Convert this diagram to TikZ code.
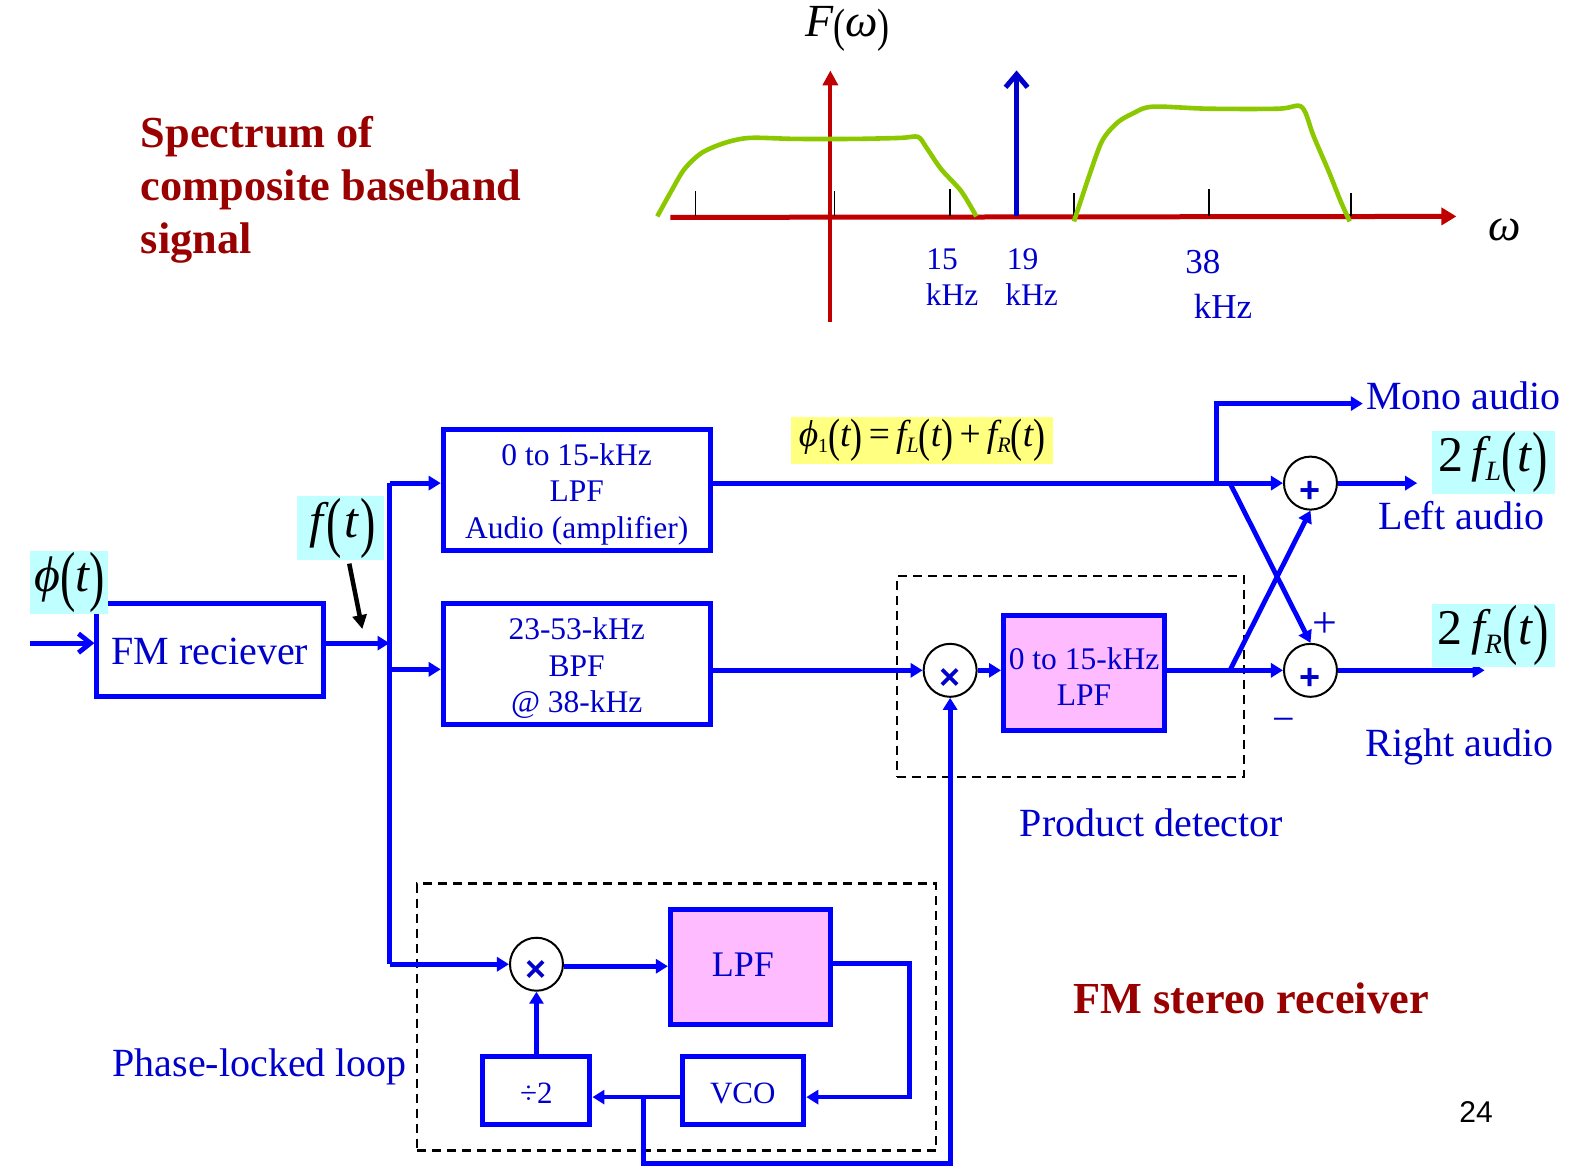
\documentclass[tikz,border=0pt]{standalone}
\usepackage{fontspec}
\setmainfont{Liberation Serif}
\newfontfamily\numfont{Liberation Sans}
\usetikzlibrary{arrows.meta,calc}
\definecolor{bl}{HTML}{0000FF}
\definecolor{tb}{HTML}{0000CC}
\definecolor{dr}{HTML}{990000}
\definecolor{axr}{HTML}{C00000}
\definecolor{grn}{HTML}{8CC800}
\definecolor{pnk}{HTML}{FFBBFF}
\definecolor{cyn}{HTML}{C0FFFF}
\definecolor{yel}{HTML}{FFFF80}
\newcommand{\fsz}[1]{\fontsize{#1}{#1}\selectfont}
\newcommand{\bigp}[1]{{\upshape\fsz{46}\raisebox{-7pt}{\scalebox{1}[1.45]{#1}}}}
\newcommand{\midp}[1]{{\upshape\fsz{36}\raisebox{-5pt}{\scalebox{1}[1.3]{#1}}}}
\newcommand{\lowsub}[3]{{\fsz{#1}\raisebox{#2}{#3}}}
\tikzset{
  wire/.style={draw=bl,line width=4.8pt,line join=miter},
  arr/.style={wire,-{Triangle[length=12pt,width=14pt]}},
  barb/.style={wire,-{Straight Barb[length=12pt,width=19pt,line width=4.8pt]}},
  blockbox/.style={draw=bl,line width=5pt,fill=white,inner sep=0pt},
  pinkbox/.style={blockbox,fill=pnk},
  boxtext/.style={text=tb,align=center,inner sep=0pt,font=\fsz{31.5},execute at begin node=\setlength{\baselineskip}{36.5pt}},
  circ/.style={circle,draw=black,line width=2pt,fill=white,minimum size=53pt,inner sep=0pt},
  symb/.style={inner sep=0pt,text=tb,font=\numfont\bfseries\fsz{36},yshift=-9pt},
  blt/.style={text=tb,font=\fsz{40},inner sep=0pt},
  title/.style={text=dr,font=\bfseries\fsz{44.3},inner sep=0pt},
  dbox/.style={draw=black,line width=2.2pt,dash pattern=on 9pt off 6pt},
  cy/.style={fill=cyn,inner sep=0pt,text=black,font=\itshape\fsz{50}},
  tick/.style={draw=black,line width=1.8pt},
  greenc/.style={draw=grn,line width=4.6pt,line cap=butt},
}
\begin{document}
\begin{tikzpicture}[x=1.0065pt,y=-1.0065pt]
\useasboundingbox (0,0) rectangle (1567.8,1162.4);
% --- spectrum
\node[inner sep=0pt,text=black,font=\itshape\fsz{46}] (fw) at (842,29) {F\midp{(}ω\midp{)}};
\node[inner sep=0pt,text=black,font=\itshape\fsz{46}] (wlab) at (1495,228) {ω};
\draw[draw=axr,line width=5pt,-{Triangle[length=15pt,width=17pt]}] (666,216) -- (1447,215);
\draw[draw=axr,line width=4pt,-{Triangle[length=15pt,width=15pt]}] (825,320) -- (825,70);
\draw[draw=tb,line width=5pt,-{Straight Barb[length=13pt,width=22pt,line width=5pt]}] (1010,215) -- (1010,70);
\foreach \x/\y in {691/190,829/190,944/188,1067/192,1201/188,1342/192}
  \draw[tick] (\x,\y) -- (\x,215);
\draw[greenc] plot[smooth,tension=0.5] coordinates {(653,215) (668,188) (680,168) (697,152) (720,142) (745,137) (790,138) (850,138) (895,137) (912,136) (920,146) (935,168) (955,190) (970,215)};
\draw[greenc] plot[smooth,tension=0.5] coordinates {(1067,220) (1082,175) (1095,140) (1110,122) (1125,113) (1145,106) (1200,108) (1270,108) (1290,105) (1297,112) (1305,135) (1320,170) (1332,200) (1341,220)};
\node[text=tb,font=\fsz{31.5},inner sep=0pt] (l15) at (936,258) {15};
\node[text=tb,font=\fsz{31.5},inner sep=0pt] (l15k) at (946,293) {kHz};
\node[text=tb,font=\fsz{31.5},inner sep=0pt] (l19) at (1016,258) {19};
\node[text=tb,font=\fsz{31.5},inner sep=0pt] (l19k) at (1025,293) {kHz};
\node[text=tb,font=\fsz{35},inner sep=0pt] (l38) at (1195,260) {38};
\node[text=tb,font=\fsz{35},inner sep=0pt] (l38k) at (1215,304) {kHz};
% --- titles
\node[title,align=left,execute at begin node=\setlength{\baselineskip}{53pt}] (t1) at (329,189) {Spectrum of\\composite baseband\\signal};
\node[title] (t2) at (1243,992) {FM stereo receiver};
\node[inner sep=0pt,text=black,font=\numfont\fsz{30}] (pg) at (1466.5,1104.5) {24};
% --- blocks
\node[dbox,minimum width=347pt,minimum height=201pt] (pd) at (1063.5,672.5) {};
\node[dbox,minimum width=519pt,minimum height=267pt] (pll) at (672.5,1010.5) {};
\node[blockbox,minimum width=227pt,minimum height=93pt] (fm) at (209,646) {};
\node[text=tb,font=\fsz{40},inner sep=0pt] (fmt) at (208.5,647) {FM reciever};
\node[blockbox,minimum width=267pt,minimum height=121pt] (lpf1) at (573,487) {};
\node[boxtext] (lpf1t) at (573,491) {0 to 15-kHz\\LPF\\Audio (amplifier)};
\node[blockbox,minimum width=267pt,minimum height=121pt] (bpf) at (573,660) {};
\node[boxtext] (bpft) at (573,664) {23-53-kHz\\BPF\\@ 38-kHz};
\node[pinkbox,minimum width=161pt,minimum height=115pt] (lpf2) at (1077,669) {};
\node[boxtext] (lpf2t) at (1077,672) {0 to 15-kHz\\LPF};
\node[pinkbox,minimum width=160pt,minimum height=115pt] (lpf3) at (745.5,961) {};
\node[text=tb,font=\fsz{36},inner sep=0pt] (lpf3t) at (738,958) {LPF};
\node[blockbox,minimum width=107pt,minimum height=68pt] (div) at (533,1083.5) {};
\node[text=tb,font=\fsz{31},inner sep=0pt] (divt) at (533,1086) {÷2};
\node[blockbox,minimum width=121pt,minimum height=68pt] (vco) at (738.5,1083.5) {};
\node[text=tb,font=\fsz{31},inner sep=0pt] (vcot) at (738,1086) {VCO};
\node[circ,label={[symb]center:+}] (add1) at (1302,480) {};
\node[circ,label={[symb]center:+}] (add2) at (1302,666) {};
\node[circ,label={[symb]center:×}] (mix1) at (944,666) {};
\node[circ,label={[symb,yshift=2pt]center:×}] (mix2) at (533,958) {};
% --- junctions and free ends
\coordinate (in) at (30,639);
\coordinate (bus) at (387,639);
\coordinate (bustop) at (387,480);
\coordinate (busmid) at (387,665);
\coordinate (busbot) at (387,958);
\coordinate (monoj) at (1209,480);
\coordinate (monoc) at (1209,401);
\coordinate (monoe) at (1354,401);
\coordinate (crossa) at (1222,480);
\coordinate (crossb) at (1222,666);
\coordinate (loute) at (1408,480);
\coordinate (route) at (1475,666);
\coordinate (lpfc1) at (904,957);
\coordinate (lpfc2) at (904,1090);
\coordinate (vcoj) at (639,1090);
\coordinate (fbc1) at (639,1156);
\coordinate (fbc2) at (944,1156);
\coordinate (fa) at (347,560);
\coordinate (fb) at (360,625);
\coordinate (mixo) at (560,960);
% --- connectors
\draw[barb] (in) -- (fm.west |- in);
\draw[arr] (fm.east |- bus) -- (bus);
\draw[wire] (bustop) -- (busbot);
\draw[arr] (bustop) -- (lpf1.west |- bustop);
\draw[arr] (busmid) -- (bpf.west |- busmid);
\draw[arr] (busbot) -- (mix2.west);
\draw[arr] (lpf1.east |- add1) -- (add1.west);
\draw[arr] (monoj) -- (monoc) -- (monoe);
\draw[arr] (add1.east) -- (loute);
\draw[arr] (bpf.east |- mix1) -- (mix1.west);
\draw[arr] (mix1.east) -- (lpf2.west |- mix1);
\draw[arr] (lpf2.east |- add2) -- (add2.west);
\draw[arr] (crossb) -- (add1.south);
\draw[arr] (crossa) -- (add2.north);
\draw[arr] (add2.east) -- (route);
\draw[arr] (mixo) -- (lpf3.west |- mixo);
\draw[arr] (lpf3.east |- lpfc1) -- (lpfc1) -- (lpfc2) -- (vco.east |- lpfc2);
\draw[arr] (vco.west |- vcoj) -- (div.east |- vcoj);
\draw[arr] (div.north) -- (mix2.south);
\draw[arr] (vcoj) -- (fbc1) -- (fbc2) -- (mix1.south);
\draw[draw=black,line width=4.5pt,-{Triangle[length=14pt,width=14pt]}] (fa) -- (fb);
% --- signal labels
\node[cy,minimum width=78pt,minimum height=63pt] (phi) at (69,578.5) {ϕ\bigp{(}t\bigp{)}};
\node[cy,minimum width=87pt,minimum height=64pt] (ft) at (338.5,525) {\hspace{4pt}f\hspace{3pt}\bigp{(}\hspace{2pt}t\hspace{2pt}\bigp{)}};
\node[cy,minimum width=123pt,minimum height=63pt] (fl) at (1483.5,459.5) {{\upshape 2}\,f\lowsub{28}{-9pt}{L}\bigp{(}\hspace{1pt}t\hspace{1pt}\bigp{)}};
\node[cy,minimum width=123pt,minimum height=63pt] (fr) at (1483.5,631.5) {{\upshape 2}\,f\lowsub{28}{-9pt}{R}\bigp{(}\hspace{1pt}t\hspace{1pt}\bigp{)}};
\node[fill=yel,inner sep=0pt,text=black,font=\itshape\fsz{37.5},minimum width=262pt,minimum height=47pt] (sum) at (916,437.5) {ϕ{\upshape\lowsub{20}{-6pt}{1}}\midp{(}t\midp{)}{\upshape\,=\,}f\lowsub{22}{-6pt}{L}\midp{(}t\midp{)}{\upshape\,+\,}f\lowsub{22}{-6pt}{R}\midp{(}t\midp{)}};
\node[blt] (mono) at (1454,393) {Mono audio};
\node[blt] (left) at (1452,512) {Left audio};
\node[blt] (right) at (1450,742) {Right audio};
\node[blt] (prod) at (1144,817) {Product detector};
\node[blt] (plab) at (258,1060) {Phase-locked loop};
\node[text=tb,font=\fsz{44},inner sep=0pt] (plus) at (1316,621) {+};
\node[text=tb,font=\fsz{40},inner sep=0pt] (minus) at (1275,721) {−};
\end{tikzpicture}
\end{document}
